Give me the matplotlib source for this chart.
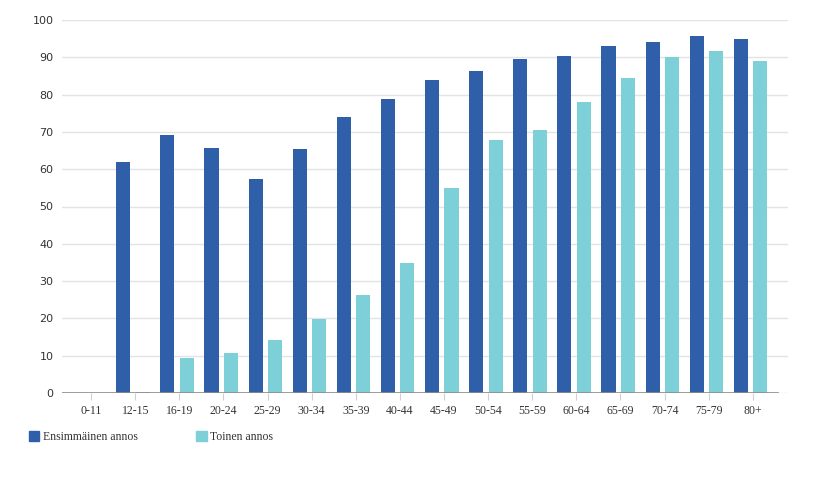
import matplotlib
matplotlib.use('Agg')
import matplotlib.pyplot as plt
import numpy as np

# age groups and vaccination coverage (%)
age_groups = ['0-11', '12-15', '16-19', '20-24', '25-29', '30-34', '35-39', '40-44',
              '45-49', '50-54', '55-59', '60-64', '65-69', '70-74', '75-79', '80+']
first_dose = [0, 62.0, 69.2, 65.8, 57.5, 65.3, 73.9, 78.9,
              84.0, 86.2, 89.5, 90.3, 92.9, 94.0, 95.6, 94.9]
second_dose = [0, 0.3, 9.5, 10.8, 14.2, 19.8, 26.4, 34.9,
               54.9, 67.9, 70.4, 78.1, 84.4, 90.0, 91.7, 88.9]
yticks = list(range(0, 101, 10))

dark = '#2f5fa9'
light = '#7dd0d7'

fig = plt.figure(figsize=(8.4, 4.8), dpi=100)
ax = fig.add_axes([62 / 840, 1 - 393 / 480, 726 / 840, 373 / 480])

x = np.arange(len(age_groups))
w = 0.32
ax.bar(x - 0.22, first_dose, width=w, color=dark, zorder=3)
ax.bar(x + 0.22, second_dose, width=w, color=light, zorder=3)

ax.set_xlim(-0.61, 15.85)
ax.set_ylim(0, 100)

# grid
ax.set_yticks(yticks)
ax.yaxis.grid(True, color='#e3e3e3', linewidth=1, zorder=0)
ax.set_axisbelow(True)
for s in ax.spines.values():
    s.set_visible(False)
ax.axhline(0, xmin=0, xmax=(778 - 62) / 726, color='#8c8c8c', linewidth=1.2, zorder=4)

ax.set_xticks(x + 0.05)
ax.set_xticklabels(age_groups, family='Liberation Serif', fontsize=8.5, color='#333333')
ax.tick_params(axis='x', length=5, color='#d0d0d0', pad=4)
ax.tick_params(axis='y', length=0, pad=6, labelsize=8, labelcolor='#333333')

# legend
handles = [plt.Rectangle((0, 0), 1, 1, color=dark), plt.Rectangle((0, 0), 1, 1, color=light)]
leg = fig.legend(handles, ['Ensimmäinen annos', 'Toinen annos'], loc='center left',
                 bbox_to_anchor=(29 / 840, 1 - 437 / 480), ncol=2, frameon=False,
                 prop={'family': 'Liberation Serif', 'size': 8.5},
                 handlelength=0.85, handleheight=0.85, handletextpad=0.3,
                 columnspacing=5.0, borderaxespad=0, borderpad=0)
for t in leg.get_texts():
    t.set_color('#333333')

fig.savefig('out.png', dpi=100)
